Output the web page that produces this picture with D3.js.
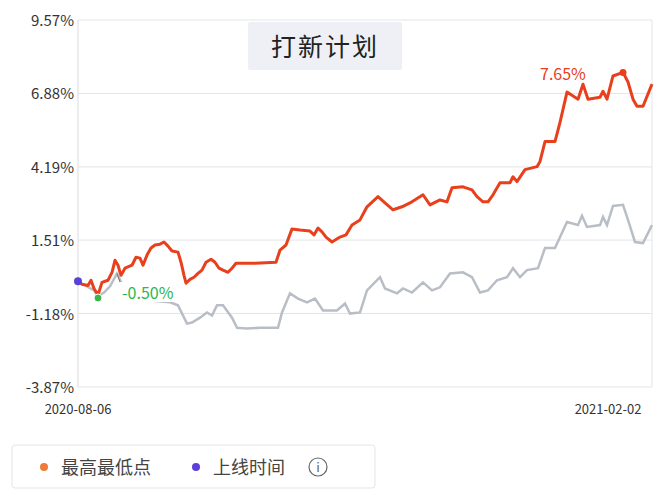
<!DOCTYPE html>
<head>
<meta charset=utf-8>
<script src="https://d3js.org/d3.v7.min.js"></script>
<style>
  body { margin: 0; background: #fff; }
  text { font-family: "Noto Sans CJK SC", "Noto Sans", sans-serif; }
</style>
</head>
<body>
<script>
// t = position along the period (0 = 2020-08-06, 574 = 2021-02-02)
var redT = [0,4,10,13,16,20,24,30,34,37,40,43,47,54,58,62,65,69,73,77,82,86,90,94,100,103,106,108,112,116,120,124,128,133,137,141,145,150,154,158,177,198,202,208,214,222,232,236,240,244,248,254,262,268,274,282,289,300,307,315,324,332,345,352,362,369,374,385,394,399,405,410,415,422,432,435,439,447,459,462,467,477,482,489,500,505,510,522,525,529,535,545,550,555,559,565,574];
var redV = [0.00,-0.11,-0.15,0.04,-0.26,-0.50,-0.04,0.04,0.33,0.77,0.59,0.22,0.48,0.59,0.88,0.85,0.59,0.96,1.22,1.33,1.36,1.44,1.29,1.11,1.07,0.70,0.22,-0.07,0.07,0.15,0.29,0.41,0.70,0.81,0.70,0.48,0.41,0.33,0.48,0.66,0.66,0.70,1.14,1.33,1.92,1.88,1.84,1.70,1.95,1.81,1.62,1.44,1.62,1.70,2.06,2.25,2.73,3.10,2.87,2.62,2.73,2.87,3.17,2.80,2.98,2.91,3.43,3.46,3.35,3.10,2.91,2.91,3.17,3.61,3.61,3.83,3.65,4.09,4.20,4.39,5.12,5.12,5.82,6.93,6.67,7.22,6.67,6.74,6.96,6.67,7.52,7.65,7.30,6.67,6.41,6.41,7.22];
var grayT = [0,16,20,26,32,39,47,72,92,100,109,114,122,129,134,139,145,154,159,169,182,200,204,212,220,229,237,245,259,267,272,282,289,302,307,319,325,334,345,354,362,372,385,394,402,410,419,429,435,442,449,460,467,477,489,500,504,509,522,525,529,535,545,550,557,565,574];
var grayV = [0.00,-0.33,-0.55,-0.41,-0.18,0.29,-0.33,-0.70,-0.77,-0.88,-1.55,-1.51,-1.33,-1.14,-1.25,-0.88,-0.88,-1.33,-1.70,-1.73,-1.70,-1.70,-1.14,-0.44,-0.63,-0.77,-0.63,-1.07,-1.07,-0.81,-1.18,-1.14,-0.33,0.15,-0.26,-0.44,-0.26,-0.41,-0.04,-0.33,-0.22,0.29,0.33,0.15,-0.41,-0.33,0.04,0.15,0.48,0.15,0.41,0.48,1.22,1.22,2.17,2.06,2.40,1.99,2.06,2.36,2.06,2.76,2.80,2.25,1.44,1.40,2.06];
var yTicks = [9.57, 6.88, 4.19, 1.51, -1.18, -3.87];
var xLabels = ["2020-08-06", "2021-02-02"];
var legendItems = [{name: "最高最低点", color: "#f07a3c"}, {name: "上线时间", color: "#5b3fd8"}];

var W = 668, H = 500;
var svg = d3.select("body").append("svg").attr("width", W).attr("height", H);

var x = d3.scaleLinear().domain([0, 574]).range([78, 652]);
var y = d3.scaleLinear().domain([-3.87, 9.57]).range([387, 20]);

// grid
svg.append("g").selectAll("line").data(yTicks).enter().append("line")
  .attr("x1", 78).attr("x2", 652)
  .attr("y1", d => y(d)).attr("y2", d => y(d))
  .attr("stroke", "#e3e5ea").attr("stroke-width", 1);
svg.append("line").attr("x1", 78).attr("x2", 78).attr("y1", 20).attr("y2", 387).attr("stroke", "#d8dbe0");
svg.append("line").attr("x1", 652).attr("x2", 652).attr("y1", 20).attr("y2", 387).attr("stroke", "#e3e5ea");

svg.append("g").selectAll("text").data(yTicks).enter().append("text")
  .attr("x", 74).attr("y", d => y(d) + 6)
  .attr("text-anchor", "end").attr("font-size", 15).attr("fill", "#333")
  .text(d => d.toFixed(2) + "%");

svg.append("text").attr("x", x(0)).attr("y", 414).attr("text-anchor", "middle")
  .attr("font-size", 13).attr("fill", "#333").text(xLabels[0]);
svg.append("text").attr("x", x(574) - 44).attr("y", 414).attr("text-anchor", "middle")
  .attr("font-size", 13).attr("fill", "#333").text(xLabels[1]);

// title box
svg.append("rect").attr("x", 248).attr("y", 22).attr("width", 154).attr("height", 48)
  .attr("fill", "#eef0f5").attr("rx", 2);
svg.append("text").attr("x", 325).attr("y", 56).attr("text-anchor", "middle")
  .attr("font-size", 25).attr("fill", "#222").attr("letter-spacing", 2).text("打新计划");

var line = d3.line().x(d => x(d[0])).y(d => y(d[1]));

svg.append("path").datum(d3.zip(grayT, grayV)).attr("d", line)
  .attr("fill", "none").attr("stroke", "#b9bec6").attr("stroke-width", 2.5);

// min label
svg.append("line").attr("x1", x(39)).attr("y1", y(0.29)).attr("x2", x(46)).attr("y2", y(-0.45))
  .attr("stroke", "#777").attr("stroke-width", 1);
svg.append("rect").attr("x", 118).attr("y", 282).attr("width", 68).attr("height", 20).attr("fill", "#fff");
svg.append("text").attr("x", 122).attr("y", 299).attr("font-size", 16).attr("fill", "#2db84a").text("-0.50%");

svg.append("path").datum(d3.zip(redT, redV)).attr("d", line)
  .attr("fill", "none").attr("stroke", "#e8401c").attr("stroke-width", 3).attr("stroke-linejoin", "round");

// markers
svg.append("circle").attr("cx", x(20)).attr("cy", y(-0.50) + 3).attr("r", 4)
  .attr("fill", "#3bb54a").attr("stroke", "#fff").attr("stroke-width", 1);
svg.append("circle").attr("cx", x(545)).attr("cy", y(7.65)).attr("r", 3.5).attr("fill", "#e8401c");
svg.append("text").attr("x", 540).attr("y", 80).attr("font-size", 16).attr("fill", "#e8401c").text("7.65%");
svg.append("circle").attr("cx", x(0)).attr("cy", y(0)).attr("r", 4).attr("fill", "#5b3fd8");

// legend
var lg = svg.append("g");
lg.append("rect").attr("x", 12).attr("y", 445).attr("width", 363).attr("height", 43).attr("rx", 3)
  .attr("fill", "#fff").attr("stroke", "#e3e5ea");
var lx = [44, 196];
legendItems.forEach(function(it, i) {
  lg.append("circle").attr("cx", lx[i]).attr("cy", 467).attr("r", 4).attr("fill", it.color);
  lg.append("text").attr("x", lx[i] + 17).attr("y", 474).attr("font-size", 18).attr("fill", "#444").text(it.name);
});
lg.append("circle").attr("cx", 318).attr("cy", 467).attr("r", 9).attr("fill", "none").attr("stroke", "#666").attr("stroke-width", 1.2);
lg.append("text").attr("x", 318).attr("y", 472).attr("text-anchor", "middle").attr("font-size", 13).attr("fill", "#666").text("i");
</script>
</body>
